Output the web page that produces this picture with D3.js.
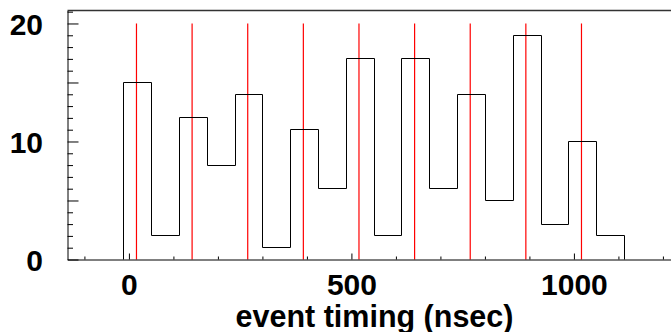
<!DOCTYPE html>
<html>
<head>
<meta charset="utf-8">
<script src="https://cdn.jsdelivr.net/npm/d3@7"></script>
<style>
  body { margin: 0; background: #fff; }
  svg { display: block; }
  .lab { font-family: "Liberation Sans", Arial, sans-serif; font-weight: bold; font-size: 30px; fill: #000; }
</style>
</head>
<body>
<div id="chart"></div>
<script>
// histogram of event timing with reference marker lines
const binEdges = [-12.5, 50, 112.5, 175, 237.5, 300, 362.5, 425, 487.5, 550,
  612.5, 675, 737.5, 800, 862.5, 925, 987.5, 1050, 1112.5];
const counts = [15, 2, 12, 8, 14, 1, 11, 6, 17, 2, 17, 6, 14, 5, 19, 3, 10, 2];
const markers = [17, 142, 267, 392, 517, 642, 767, 892, 1017];
const markerTop = 20;
const xMajor = [0, 500, 1000];
const xMinor = [-100, 100, 200, 300, 400, 600, 700, 800, 900, 1100, 1200];
const yMajor = [0, 10, 20];
const yMinor = [1, 2, 3, 4, 5, 6, 7, 8, 9, 11, 12, 13, 14, 15, 16, 17, 18, 19, 21];
const xTitle = "event timing (nsec)";

const W = 671, H = 332;
const svg = d3.select("#chart").append("svg").attr("width", W).attr("height", H);

const x = d3.scaleLinear().domain([-138, 1250]).range([67.5, 67.5 + 0.445 * 1388]);
const y = d3.scaleLinear().domain([0, 21.1]).range([259.5, 10.5]);

// top frame line
svg.append("line")
  .attr("x1", x.range()[0]).attr("x2", W)
  .attr("y1", y.range()[1]).attr("y2", y.range()[1])
  .attr("stroke", "#333").attr("stroke-width", 1.5);

// marker lines (left anti-aliased, like the original)
svg.append("g").attr("class", "markers").selectAll("line").data(markers).join("line")
  .attr("x1", d => x(d)).attr("x2", d => x(d))
  .attr("y1", y(markerTop)).attr("y2", y(0))
  .attr("stroke", "#ff0000").attr("stroke-width", 1.2);

// histogram outline
const pts = [[binEdges[0], 0]];
counts.forEach((c, i) => { pts.push([binEdges[i], c]); pts.push([binEdges[i + 1], c]); });
pts.push([binEdges[binEdges.length - 1], 0]);
svg.append("path")
  .attr("d", d3.line().x(d => Math.round(x(d[0])) + 0.5).y(d => Math.round(y(d[1]) - 0.5) + 0.5)(pts))
  .attr("fill", "none").attr("stroke", "#000").attr("stroke-width", 1);

// x axis
const gx = svg.append("g").attr("transform", `translate(0,${y(0)})`);
gx.call(d3.axisBottom(x).tickValues(xMajor).tickSize(-6).tickSizeOuter(0).tickPadding(14).tickFormat(d3.format("d")));
gx.append("g").call(d3.axisBottom(x).tickValues(xMinor).tickSize(-3).tickSizeOuter(0).tickFormat(""))
  .select(".domain").remove();
gx.selectAll("text").attr("class", "lab").attr("font-size", null).attr("font-family", null);

// y axis
const gy = svg.append("g").attr("transform", `translate(${x.range()[0]},0)`);
gy.call(d3.axisLeft(y).tickValues(yMajor).tickSize(-11).tickSizeOuter(0).tickPadding(24.5).tickFormat(d3.format("d")));
gy.append("g").call(d3.axisLeft(y).tickValues(yMinor).tickSize(-5.5).tickSizeOuter(0).tickFormat(""))
  .select(".domain").remove();
gy.selectAll(".tick").filter(d => d === 5 || d === 15).select("line").attr("x2", 11);
gy.selectAll("text").attr("class", "lab").attr("font-size", null).attr("font-family", null).attr("dy", "0.37em");

svg.selectAll(".domain").attr("stroke", "#000");

// axis title
svg.append("text").attr("class", "lab")
  .attr("x", 374.5).attr("y", 327).attr("text-anchor", "middle")
  .style("font-size", "30.5px")
  .text(xTitle);
</script>
</body>
</html>
